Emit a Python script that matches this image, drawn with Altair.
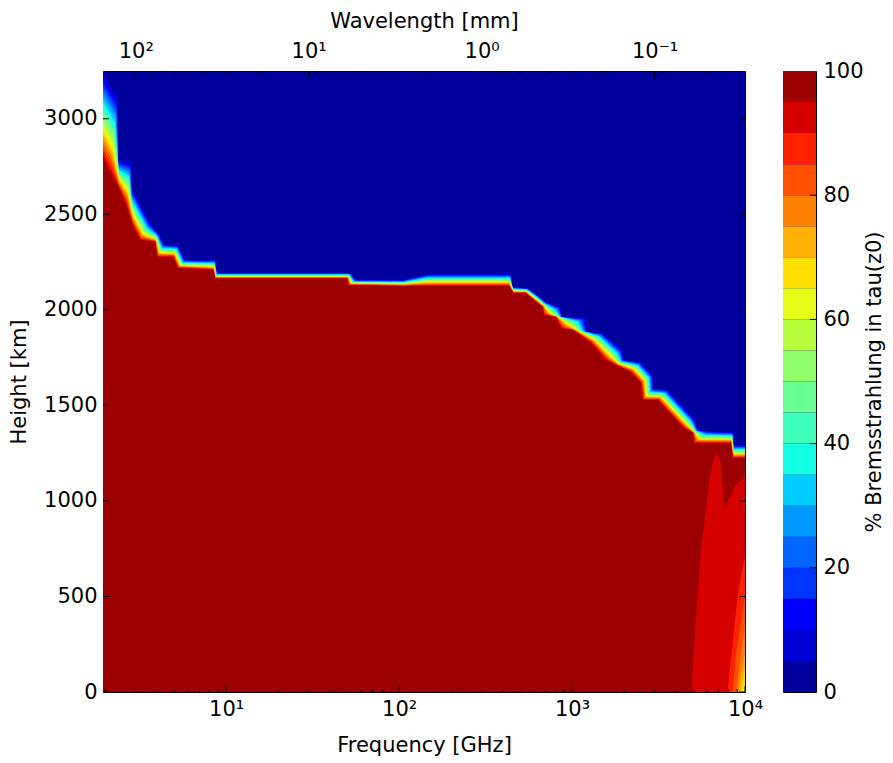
import altair as alt
import numpy as np
import pandas as pd

F_MIN, F_MAX = 1.94, 1.0e4      # frequency range [GHz]
H_MAX = 3250                    # height range [km]

# 95 % contour: upper edge of the dark-red region (frequency [GHz], height [km])
lo_freq = [1.94, 2.13, 2.43, 2.64, 2.89, 3.18, 3.88, 3.99, 4.93, 5.27, 8.41, 8.64, 50.2,
           50.9, 106, 146, 430, 459, 539, 599, 676, 685, 804, 859, 1008, 1281, 1565, 1788,
           2184, 2496, 2564, 3132, 3625, 4429, 4994, 5061, 8286, 8511, 10000]
lo_height = [2795, 2721, 2627, 2549, 2439, 2366, 2355, 2277, 2277, 2219, 2209, 2164, 2164,
             2130, 2125, 2125, 2125, 2088, 2088, 2052, 2015, 1973, 1963, 1905, 1895, 1827,
             1738, 1711, 1675, 1617, 1528, 1528, 1465, 1382, 1356, 1303, 1303, 1225, 1225]
# 5 % contour: lower edge of the dark-blue region
hi_freq = [1.94, 2.36, 2.37, 2.81, 2.82, 3.63, 4.04, 4.38, 5.27, 5.79, 8.64, 8.87, 52.2,
           56.6, 106, 146, 441, 453, 553, 632, 704, 859, 882, 1199, 1231, 1504, 1963, 1990,
           2496, 2929, 2969, 3577, 4142, 5061, 5339, 6346, 8511, 8625, 10000]
hi_height = [3240, 3109, 2784, 2774, 2643, 2460, 2402, 2345, 2339, 2261, 2261, 2194, 2194,
             2156, 2156, 2188, 2188, 2120, 2114, 2078, 2041, 2015, 1963, 1957, 1884, 1879,
             1790, 1738, 1727, 1659, 1591, 1581, 1518, 1434, 1371, 1366, 1361, 1293, 1293]

# lobes of lower values at high frequency (level = lower bound of the band)
lobe90_freq = [4908, 5080, 5315, 5555, 5937, 6261, 6631, 6939, 7252, 7419, 7578, 8100, 8859, 9894, 10000]
lobe90_height = [0, 255, 499, 743, 952, 1136, 1231, 1249, 1197, 1074, 961, 1014, 1083, 1127, 1136]
lobe85_freq = [7929, 8476, 9061, 9467, 9894, 10000]
lobe85_height = [0, 255, 499, 603, 691, 717]
lobe80_freq = [8476, 8918, 9467, 10000]
lobe80_height = [0, 220, 361, 497]
lobe75_freq = [8859, 9686, 10000]
lobe75_height = [0, 256, 351]
lobe70_freq = [9133, 9723, 10000]
lobe70_height = [0, 141, 220]
lobe65_freq = [9467, 10000]
lobe65_height = [0, 126]
lobe60_freq = [9853, 10000]
lobe60_height = [0, 52]

levels = list(range(0, 100, 5))
colors = ["#00009c", "#0000d6", "#0000ff", "#0033ff", "#0066ff", "#0099ff", "#00ccff",
          "#15ffe2", "#3effb9", "#67ff90", "#90ff67", "#b9ff3e", "#e2ff15", "#ffde00",
          "#ffaf00", "#ff8000", "#ff5000", "#ff2100", "#d60000", "#9c0000"]

x_major = [10, 100, 1000, 10000]
x_minor = [m * 10 ** e for e in range(0, 4) for m in range(2, 10) if m * 10 ** e >= F_MIN]
lam_major = [100, 10, 1, 0.1]
lam_minor = [m * 10.0 ** e for e in range(-2, 3) for m in range(2, 10)
             if 300 / F_MAX < m * 10.0 ** e < 300 / F_MIN]
h_ticks = list(range(0, 3001, 500))
cb_ticks = [20, 40, 60, 80]

W, H = 642, 621
CBW = 33
FS = 21

xscale = alt.Scale(type="log", domain=[F_MIN, F_MAX], nice=False)
yscale = alt.Scale(domain=[0, H_MAX], nice=False, zero=False)
xaxis = alt.Axis(values=x_major, title="Frequency [GHz]", labelPadding=6, titlePadding=15,
                 labelExpr="datum.value == 10 ? '10¹' : datum.value == 100 ? '10²' : "
                           "datum.value == 1000 ? '10³' : '10⁴'",
                 labelFlush=False)
yaxis = alt.Axis(values=h_ticks, labelExpr="'' + datum.value", title="Height [km]",
                 labelPadding=6, titlePadding=14)


def X(field):
    return alt.X(f"{field}:Q", scale=xscale, axis=xaxis)


def Y(field):
    return alt.Y(f"{field}:Q", scale=yscale, axis=yaxis)


def area_layer(freqs, heights, color):
    df = pd.DataFrame({"f": freqs, "h": heights})
    return alt.Chart(df).mark_area(color=color, clip=True).encode(x=X("f"), y=Y("h"))


layers = []
lf, hf = np.log10(lo_freq), np.log10(hi_freq)
lh, hh = np.array(lo_height, float), np.array(hi_height, float)
for thr in range(5, 100, 5):
    t = (95 - thr) / 90.0
    layers.append(area_layer(10 ** (lf + t * (hf - lf)), lh + t * (hh - lh), colors[thr // 5]))

lobes = [(90, lobe90_freq, lobe90_height), (85, lobe85_freq, lobe85_height),
         (80, lobe80_freq, lobe80_height), (75, lobe75_freq, lobe75_height),
         (70, lobe70_freq, lobe70_height), (65, lobe65_freq, lobe65_height),
         (60, lobe60_freq, lobe60_height)]
for lv, fr, hv in lobes:
    layers.append(area_layer(fr, hv, colors[lv // 5]))

# inward ticks, matplotlib style
bx_major = pd.DataFrame({"v": x_major})
bx_minor = pd.DataFrame({"v": x_minor})
hy = pd.DataFrame({"v": h_ticks})
layers += [
    alt.Chart(bx_major).mark_rule(color="black").encode(x=X("v"), y=alt.value(H), y2=alt.value(H - 6)),
    alt.Chart(bx_minor).mark_rule(color="black").encode(x=X("v"), y=alt.value(H), y2=alt.value(H - 3)),
    alt.Chart(hy).mark_rule(color="black").encode(y=Y("v"), x=alt.value(0), x2=alt.value(6)),
    alt.Chart(hy).mark_rule(color="black").encode(y=Y("v"), x=alt.value(W), x2=alt.value(W - 6)),
]
main = alt.layer(*layers)

lscale = alt.Scale(type="log", domain=[300 / F_MAX, 300 / F_MIN], reverse=True, nice=False)
laxis = alt.Axis(orient="top", values=lam_major, title="Wavelength [mm]", labelPadding=10,
                 titlePadding=9, labelFlush=False,
                 labelExpr="datum.value == 100 ? '10²' : datum.value == 10 ? '10¹' : "
                           "datum.value == 1 ? '10⁰' : '10⁻¹'")
top = alt.layer(
    alt.Chart(pd.DataFrame({"lam": lam_major})).mark_rule(color="black").encode(
        x=alt.X("lam:Q", scale=lscale, axis=laxis), y=alt.value(0), y2=alt.value(6)),
    alt.Chart(pd.DataFrame({"lam": lam_minor})).mark_rule(color="black").encode(
        x=alt.X("lam:Q", scale=lscale, axis=laxis), y=alt.value(0), y2=alt.value(3)),
)

plot = alt.layer(main, top).resolve_scale(x="independent").properties(width=W, height=H)

cb_df = pd.DataFrame({"lv": levels, "lv2": [l + 5 for l in levels]})
cscale = alt.Scale(domain=[0, 100], nice=False)
caxis = alt.Axis(orient="right", values=[0, 20, 40, 60, 80, 100],
                 title="% Bremsstrahlung in tau(z0)", titleAngle=270,
                 labelPadding=7, titlePadding=0, titleBaseline="top")
cbar = alt.layer(
    alt.Chart(cb_df).mark_rect().encode(
        y=alt.Y("lv:Q", scale=cscale, axis=caxis), y2="lv2:Q",
        x=alt.value(0), x2=alt.value(CBW),
        color=alt.Color("lv:O", scale=alt.Scale(domain=levels, range=colors), legend=None)),
    alt.Chart(pd.DataFrame({"v": cb_ticks})).mark_rule(color="black").encode(
        y=alt.Y("v:Q", scale=cscale, axis=caxis), x=alt.value(CBW), x2=alt.value(CBW - 6)),
).properties(width=CBW, height=H)

chart = (
    alt.hconcat(plot, cbar, spacing=38, bounds="flush")
    .properties(padding={"left": 0, "top": 1, "right": 0, "bottom": 0})
    .configure(font="DejaVu Sans")
    .configure_view(stroke="black", strokeWidth=1, fill=colors[0])
    .configure_axis(labelColor="black", titleColor="black", titleFontWeight="normal",
                    labelFontSize=FS, titleFontSize=FS, grid=False, ticks=False,
                    domain=False, labelFont="DejaVu Sans", titleFont="DejaVu Sans")
)

chart.save("out.html", embed_options={"renderer": "svg", "actions": False})
